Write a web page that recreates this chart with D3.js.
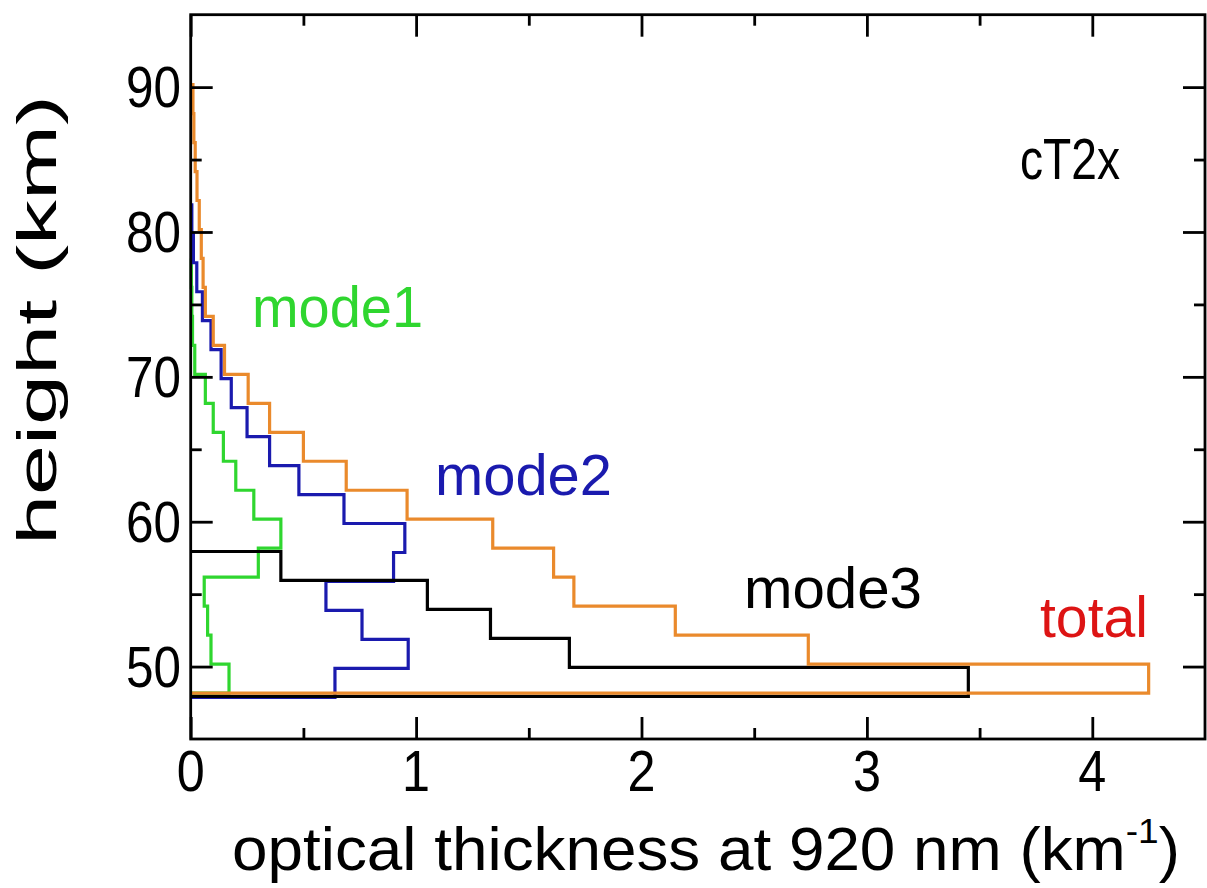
<!DOCTYPE html>
<html>
<head>
<meta charset="utf-8">
<script src="https://cdn.jsdelivr.net/npm/d3@7"></script>
<style>
  html, body { margin: 0; padding: 0; background: #fff; }
  svg { display: block; }
  text { font-family: "Liberation Sans", Arial, Helvetica, sans-serif; }
</style>
</head>
<body>
<svg id="chart" width="1207" height="888"></svg>
<script>
// ---- data (layer bottoms in km, 2 km thick layers) ----
const layerBottoms = [48,50,52,54,56,58,60,62,64,66,68,70,72,74,76,78,80,82,84,86,88];
const layerThickness = 2;
// optical thickness (km^-1) per layer, bottom to top
const mode1Values = [0.17,0.09,0.075,0.06,0.30,0.40,0.28,0.20,0.145,0.10,0.065,0.018,0.008,0.005,0.003];
const mode2Values = [0.64,0.965,0.76,0.60,0.90,0.95,0.68,0.48,0.35,0.25,0.18,0.135,0.09,0.052,0.027,0.012,0.005];
const mode3Values = [3.45,1.68,1.33,1.05,0.40];
const totalValues = [4.25,2.74,2.15,1.70,1.61,1.34,0.96,0.69,0.50,0.35,0.255,0.15,0.10,0.065,0.055,0.047,0.038,0.028,0.02,0.014,0.01];
const xTickValues = [0,1,2,3,4];
const xMinorTicks = [0.5,1.5,2.5,3.5];
const yTickValues = [50,60,70,80,90];
const yMinorTicks = [55,65,75,85];
const seriesNames = ["mode1","mode2","mode3","total"];

(function () {
const svg = d3.select("#chart");
const mLeft = 190.7, mRight = 1205, mTop = 14.7, mBottom = 739;
const x = d3.scaleLinear().domain([0, 4.5]).range([mLeft, mRight]);
const y = d3.scaleLinear().domain([45, 95]).range([mBottom, mTop]);

const styles = {
  mode1: {color: "#2fd62f", dy: -2.5},
  mode2: {color: "#1a1aae", dy: 1.8},
  mode3: {color: "#000000", dy: 0.8},
  total: {color: "#ea8a2c", dy: -2.5}
};

function profilePoints(values) {
  const pts = [];
  const n = values.length;
  const topH = layerBottoms[n - 1] + layerThickness;
  pts.push([0, topH]);
  for (let i = n - 1; i >= 0; i--) {
    const b = layerBottoms[i];
    pts.push([values[i], b + layerThickness]);
    pts.push([values[i], b]);
  }
  pts.push([0, layerBottoms[0]]);
  return pts;
}

const dataBySeries = {mode1: mode1Values, mode2: mode2Values, mode3: mode3Values, total: totalValues};

const lines = svg.append("g");
seriesNames.forEach(name => {
  const st = styles[name];
  const line = d3.line().x(d => x(d[0])).y(d => y(d[1]) + st.dy);
  lines.append("path")
    .attr("d", line(profilePoints(dataBySeries[name])))
    .attr("fill", "none")
    .attr("stroke", st.color)
    .attr("stroke-width", 3.2)
    .attr("stroke-linejoin", "miter");
});

// ---- axes ----
const axisG = svg.append("g");
function addAxis(axisFn, values, size, translate) {
  axisG.append("g").attr("transform", translate)
    .call(axisFn.tickValues(values).tickSize(-size).tickFormat(""))
    .call(g => g.select(".domain").remove());
}
addAxis(d3.axisBottom(x), xTickValues, 22, `translate(0,${mBottom})`);
addAxis(d3.axisBottom(x), xMinorTicks, 11, `translate(0,${mBottom})`);
addAxis(d3.axisTop(x), xTickValues, 22, `translate(0,${mTop})`);
addAxis(d3.axisTop(x), xMinorTicks, 11, `translate(0,${mTop})`);
addAxis(d3.axisLeft(y), yTickValues, 22, `translate(${mLeft},0)`);
addAxis(d3.axisLeft(y), yMinorTicks, 11, `translate(${mLeft},0)`);
addAxis(d3.axisRight(y), yTickValues, 22, `translate(${mRight},0)`);
addAxis(d3.axisRight(y), yMinorTicks, 11, `translate(${mRight},0)`);
axisG.selectAll(".tick line").attr("stroke", "#000").attr("stroke-width", 2.8);

// frame
svg.append("rect")
  .attr("x", mLeft).attr("y", mTop)
  .attr("width", mRight - mLeft).attr("height", mBottom - mTop)
  .attr("fill", "none").attr("stroke", "#000").attr("stroke-width", 2.8);

// tick labels
const tickFont = 57;
svg.append("g").selectAll("text").data(xTickValues).join("text")
  .attr("x", d => x(d)).attr("y", 791)
  .attr("text-anchor", "middle")
  .attr("font-size", tickFont)
  .attr("textLength", 28).attr("lengthAdjust", "spacingAndGlyphs")
  .text(d => d3.format("d")(d));
svg.append("g").selectAll("text").data(yTickValues).join("text")
  .attr("x", 181).attr("y", d => y(d) + 20)
  .attr("text-anchor", "end")
  .attr("font-size", tickFont)
  .attr("textLength", 55).attr("lengthAdjust", "spacingAndGlyphs")
  .text(d => d3.format("d")(d));

// axis titles
const xtG = svg.append("g");
const xt = xtG.append("text")
  .attr("x", 0).attr("y", 0)
  .attr("text-anchor", "middle")
  .attr("font-size", 62);
xt.append("tspan").text("optical thickness at 920 nm (km");
xt.append("tspan").attr("font-size", 36).attr("dy", -27).text("-1");
xt.append("tspan").attr("dy", 27).text(")");
const bb = xt.node().getBBox();
const sx = 948 / bb.width;
xtG.attr("transform", `translate(706,870) scale(${sx},1)`);

svg.append("text")
  .attr("transform", "translate(56,320) rotate(-90)")
  .attr("text-anchor", "middle")
  .attr("font-size", 56)
  .attr("textLength", 450).attr("lengthAdjust", "spacingAndGlyphs")
  .text("height (km)");

// annotations
const labelDefs = [
  {text: "cT2x", x: 1020, y: 179, w: 100, color: "#000"},
  {text: "mode1", x: 252, y: 327, w: 171, color: "#2fd62f"},
  {text: "mode2", x: 435, y: 495, w: 177, color: "#1a1aae"},
  {text: "mode3", x: 744, y: 608, w: 178, color: "#000"},
  {text: "total", x: 1040, y: 637, w: 108, color: "#dd1414"}
];
svg.append("g").selectAll("text").data(labelDefs).join("text")
  .attr("x", d => d.x).attr("y", d => d.y)
  .attr("font-size", 57)
  .attr("fill", d => d.color)
  .attr("textLength", d => d.w).attr("lengthAdjust", "spacingAndGlyphs")
  .text(d => d.text);
})();
</script>
</body>
</html>
